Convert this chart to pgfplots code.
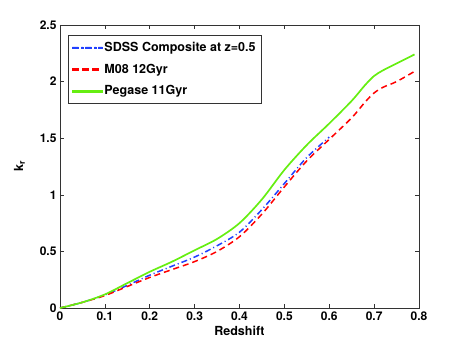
\documentclass[border=0pt]{standalone}
\usepackage{fontspec}
\setmainfont{TeX Gyre Heros}
\usepackage{pgfplots}
\pgfplotsset{compat=1.18}
\definecolor{sdssblue}{HTML}{2040FF}
\definecolor{mredd}{HTML}{FF0000}
\definecolor{pgreen}{HTML}{66EE11}

\pgfplotstableread{
z k
0 0
0.05 0.05
0.1 0.115
0.15 0.20
0.2 0.29
0.25 0.37
0.3 0.45
0.35 0.55
0.4 0.67
0.45 0.87
0.5 1.10
0.55 1.33
0.6 1.51
}\sdss

\pgfplotstableread{
z k
0 0
0.05 0.05
0.1 0.11
0.15 0.19
0.2 0.27
0.25 0.34
0.3 0.41
0.35 0.50
0.4 0.63
0.45 0.83
0.5 1.07
0.55 1.30
0.6 1.49
0.65 1.68
0.68 1.82
0.7 1.90
0.72 1.95
0.75 2.00
0.79 2.09
}\mzeroeight

\pgfplotstableread{
z k
0 0
0.05 0.05
0.1 0.12
0.15 0.22
0.2 0.32
0.25 0.41
0.3 0.51
0.35 0.61
0.4 0.75
0.45 0.96
0.5 1.22
0.55 1.44
0.6 1.63
0.65 1.83
0.68 1.97
0.7 2.05
0.72 2.10
0.75 2.16
0.79 2.24
}\pegase

\begin{document}
\begin{tikzpicture}
\begin{axis}[
  scale only axis, width=359pt, height=283pt,
  xmin=0, xmax=0.8, ymin=0, ymax=2.5,
  xtick={0,0.1,0.2,0.3,0.4,0.5,0.6,0.7,0.8},
  ytick={0,0.5,1,1.5,2,2.5},
  xticklabels={0,0.1,0.2,0.3,0.4,0.5,0.6,0.7,0.8},
  yticklabels={0,0.5,1,1.5,2,2.5},
  tick align=inside, xtick pos=both, ytick pos=both,
  major tick length=4pt,
  axis line style={black!80, line width=0.6pt},
  tick style={black!80, line width=0.6pt},
  every tick label/.append style={font=\bfseries\fontsize{12}{14}\selectfont},
  label style={font=\bfseries\fontsize{12.5}{14}\selectfont},
  xlabel={Redshift}, ylabel={k\textsubscript{r}},
  xlabel style={yshift=1pt},
  ylabel style={yshift=8pt},
  legend style={at={(0.022,0.965)}, anchor=north west,
    font=\bfseries\fontsize{12.5}{14}\selectfont,
    draw=black!80, fill=white, row sep=7pt,
    inner xsep=4pt, inner ysep=5pt},
  legend cell align=left,
]
\addlegendimage{color=sdssblue,
  legend image code/.code={\fill[sdssblue]
    (0pt,-0.75pt) rectangle (6pt,0.75pt) (9pt,-0.75pt) rectangle (10.5pt,0.75pt)
    (13pt,-0.75pt) rectangle (19pt,0.75pt) (22pt,-0.75pt) rectangle (23.5pt,0.75pt)
    (26pt,-0.75pt) rectangle (30pt,0.75pt);}}
\addlegendentry{SDSS Composite at z=0.5}
\addlegendimage{color=mredd,
  legend image code/.code={\fill[mredd]
    (0pt,-0.75pt) rectangle (6pt,0.75pt) (10pt,-0.75pt) rectangle (16pt,0.75pt)
    (20pt,-0.75pt) rectangle (26pt,0.75pt);}}
\addlegendentry{M08 12Gyr}
\addlegendimage{color=pgreen,
  legend image code/.code={\fill[pgreen] (0pt,-0.85pt) rectangle (30pt,0.85pt);}}
\addlegendentry{Pegase 11Gyr}
\addplot[forget plot, color=sdssblue, line width=1.5pt, dash pattern=on 6pt off 3pt on 1pt off 3pt, smooth, tension=0.5] table {\sdss};
\addplot[forget plot, color=mredd, line width=1.5pt, dash pattern=on 6pt off 4pt, smooth, tension=0.5] table {\mzeroeight};
\addplot[forget plot, color=pgreen, line width=1.7pt, smooth, tension=0.5] table {\pegase};
\end{axis}
\pgfresetboundingbox
\path[use as bounding box] ([xshift=-60pt,yshift=-40pt]current axis.south west) rectangle ([xshift=44pt,yshift=25pt]current axis.north east);
\end{tikzpicture}
\end{document}
